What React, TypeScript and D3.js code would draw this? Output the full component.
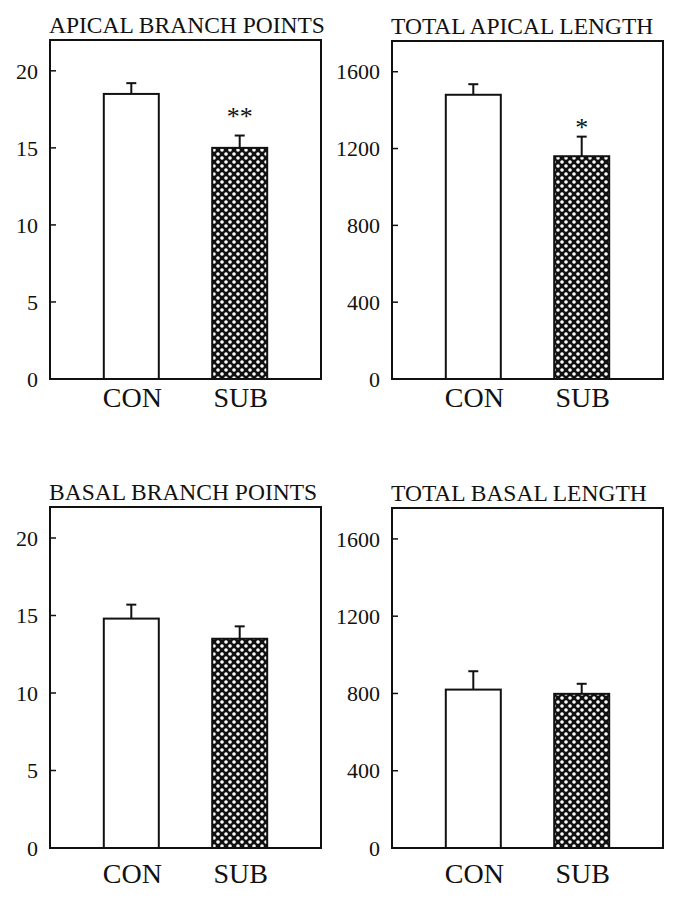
import React from 'react';
import * as d3 from 'd3';

// groups on the x axis
const groups = ['CON', 'SUB'];

// panel titles
const titles = ['APICAL BRANCH POINTS', 'TOTAL APICAL LENGTH', 'BASAL BRANCH POINTS', 'TOTAL BASAL LENGTH'];

// means and error tops (mean + SEM) for CON, SUB
const apicalPoints = [18.5, 15.0];
const apicalPointsErr = [19.2, 15.8];
const apicalLength = [1480, 1160];
const apicalLengthErr = [1535, 1262];
const basalPoints = [14.8, 13.5];
const basalPointsErr = [15.7, 14.3];
const basalLength = [820, 798];
const basalLengthErr = [915, 850];

// significance marks
const apicalPointsStars = ['', '**'];
const apicalLengthStars = ['', '*'];
const noStars = ['', ''];

// y axes
const countTicks = [0, 5, 10, 15, 20];
const lengthTicks = [0, 400, 800, 1200, 1600];
const countMax = 22;
const lengthMax = 1760;

const FONT = 'Liberation Serif, DejaVu Serif';

type PanelProps = {
  title: string;
  values: number[];
  errTops: number[];
  stars: string[];
  ticks: number[];
  yMax: number;
  x0: number;
  x1: number;
  y0: number;
  y1: number;
  labelOffset: number;
  starGap: number;
};

const Panel = ({ title, values, errTops, stars, ticks, yMax, x0, x1, y0, y1, labelOffset, starGap }: PanelProps) => {
  const y = d3.scaleLinear().domain([0, yMax]).range([y1, y0]);
  // bar centres at 30% and 70% of the frame
  const x = d3.scalePoint<string>().domain(groups).range([x0, x1]).padding(0.75);
  const barW = 55;
  const capW = 10;

  return (
    <g>
      <text x={x0 - 1} y={y0 - 7} fontFamily={FONT} fontSize={23.5} fill="#111">
        {title}
      </text>

      {groups.map((g, i) => {
        const cx = x(g) as number;
        return (
          <g key={g}>
            {/* error bar */}
            <line x1={cx} x2={cx} y1={y(values[i])} y2={y(errTops[i])} stroke="#111" strokeWidth={2} />
            <line x1={cx - capW / 2} x2={cx + capW / 2} y1={y(errTops[i])} y2={y(errTops[i])} stroke="#111" strokeWidth={2} />
            <rect
              x={cx - barW / 2}
              y={y(values[i])}
              width={barW}
              height={y1 - y(values[i])}
              fill={i === 0 ? '#fff' : 'url(#dots)'}
              stroke="#111"
              strokeWidth={2}
            />
            {stars[i] && (
              <text x={cx} y={y(errTops[i]) - starGap} textAnchor="middle" fontFamily={FONT} fontSize={26} fill="#111">
                {stars[i]}
              </text>
            )}
            <text x={cx + 1} y={y1 + labelOffset} textAnchor="middle" fontFamily={FONT} fontSize={28} fill="#111">
              {g}
            </text>
          </g>
        );
      })}

      {ticks.map((t) => (
        <g key={t} transform={`translate(${x0}, ${y(t)})`}>
          <line x1={0} x2={6} stroke="#111" strokeWidth={1.5} />
          <text x={-12} dy="0.35em" textAnchor="end" fontFamily={FONT} fontSize={22} fill="#111">
            {t}
          </text>
        </g>
      ))}

      <rect x={x0} y={y0} width={x1 - x0} height={y1 - y0} fill="none" stroke="#111" strokeWidth={2} />
    </g>
  );
};

export default function App() {
  return (
    <svg width={682} height={899} style={{ position: 'absolute', left: 0, top: 0, background: '#fff' }}>
      <defs>
        <pattern id="dots" width={8} height={8} patternUnits="userSpaceOnUse">
          <rect width={8} height={8} fill="#111" />
          <circle cx={2} cy={2} r={1.8} fill="#fff" />
          <circle cx={6} cy={6} r={1.8} fill="#fff" />
        </pattern>
      </defs>
      <Panel title={titles[0]} values={apicalPoints} errTops={apicalPointsErr} stars={apicalPointsStars}
        ticks={countTicks} yMax={countMax} x0={50} x1={321} y0={40} y1={379} labelOffset={28} starGap={11} />
      <Panel title={titles[1]} values={apicalLength} errTops={apicalLengthErr} stars={apicalLengthStars}
        ticks={lengthTicks} yMax={lengthMax} x0={392} x1={663} y0={41} y1={379} labelOffset={28} starGap={1} />
      <Panel title={titles[2]} values={basalPoints} errTops={basalPointsErr} stars={noStars}
        ticks={countTicks} yMax={countMax} x0={50} x1={321} y0={507} y1={848} labelOffset={35} starGap={8} />
      <Panel title={titles[3]} values={basalLength} errTops={basalLengthErr} stars={noStars}
        ticks={lengthTicks} yMax={lengthMax} x0={392} x1={663} y0={508} y1={848} labelOffset={35} starGap={8} />
    </svg>
  );
}
